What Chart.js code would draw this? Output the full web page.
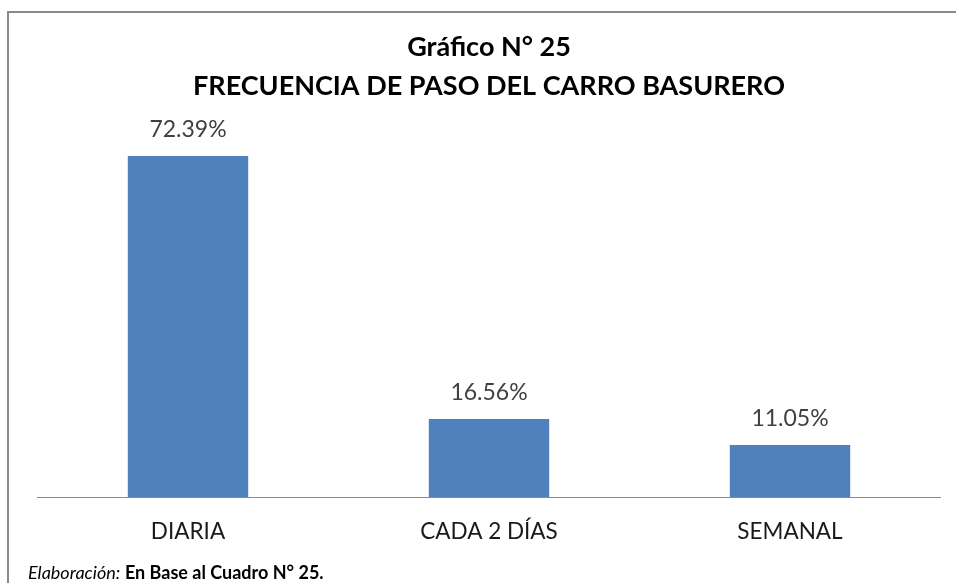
<!DOCTYPE html>
<html><head><meta charset="utf-8">
<script src="https://cdn.jsdelivr.net/npm/chart.js@4"></script>
<style>
html,body{margin:0;padding:0;width:956px;height:583px;overflow:hidden;background:#fff;}
#frame{position:absolute;left:7px;top:11px;width:1000px;height:700px;border-left:2px solid #8a8a8a;border-top:2px solid #8a8a8a;}
#wrap{position:absolute;left:0;top:0;width:956px;height:583px;}
#foot{position:absolute;left:28px;top:562px;font-family:Lato,sans-serif;font-size:18px;line-height:21px;color:#000;white-space:nowrap;}
</style></head><body>
<div id="frame"></div>
<div id="wrap"><canvas id="c" width="956" height="583"></canvas></div>
<div id="foot"><i>Elaboración:</i> <b>En Base al Cuadro N° 25.</b></div>
<script>
const categories = ['DIARIA', 'CADA 2 DÍAS', 'SEMANAL'];
const values = [72.39, 16.56, 11.05];
const titleLines = ['Gráfico N° 25', 'FRECUENCIA DE PASO DEL CARRO BASURERO'];

const labelPlugin = {
  id: 'barLabels',
  afterDatasetsDraw(chart) {
    const ctx = chart.ctx;
    const meta = chart.getDatasetMeta(0);
    ctx.save();
    ctx.font = '23px Lato, sans-serif';
    ctx.fillStyle = '#404040';
    ctx.textAlign = 'center';
    ctx.textBaseline = 'middle';
    meta.data.forEach((bar, i) => {
      ctx.fillText(values[i].toFixed(2) + '%', bar.x, bar.y - 26);
    });
    ctx.restore();
  }
};

new Chart(document.getElementById('c'), {
  type: 'bar',
  data: {
    labels: categories,
    datasets: [{
      data: values,
      backgroundColor: '#4F81BD',
      borderWidth: 0,
      barPercentage: 0.4,
      categoryPercentage: 1.0
    }]
  },
  options: {
    responsive: false,
    animation: false,
    layout: { padding: { left: 37.5, right: 15.5, top: 0, bottom: 17 } },
    plugins: {
      legend: { display: false },
      tooltip: { enabled: false },
      title: {
        display: true,
        text: titleLines,
        color: '#000',
        font: { family: 'Lato, sans-serif', size: 27, weight: 'bold', lineHeight: '39px' },
        padding: { top: 27.5, bottom: 14.7 }
      }
    },
    scales: {
      y: { display: false, min: 0, max: 80 },
      x: {
        grid: { display: false, drawTicks: false },
        border: { display: true, color: '#8a8a8a', width: 1 },
        ticks: { color: '#1a1a1a', padding: 21, font: { family: 'Lato, sans-serif', size: 22.5 } }
      }
    }
  },
  plugins: [labelPlugin]
});
</script>
</body></html>
